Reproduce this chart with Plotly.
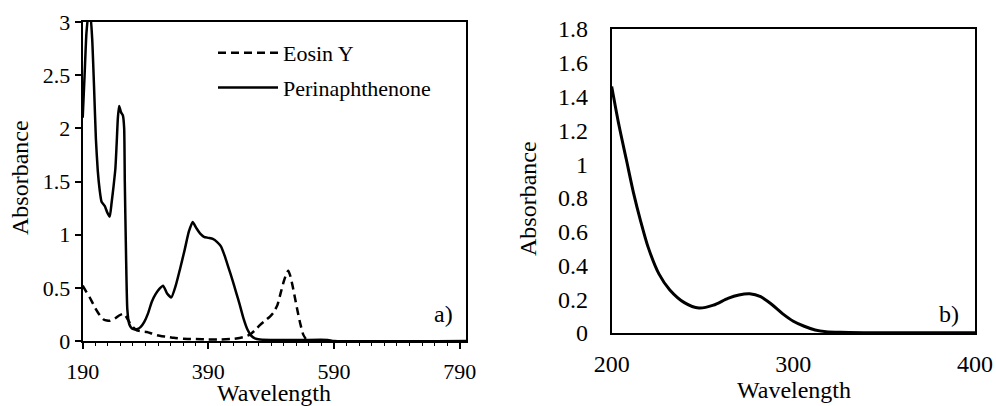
import plotly.graph_objects as go

# panel a) - absorbance spectra
perina_wl = [190, 193, 196, 199, 202, 205, 208, 211, 214, 217, 220, 225, 229, 233, 236,
             239, 242, 244, 246, 248, 251, 254, 256, 257, 259, 261, 264, 268, 272, 276,
             282, 288, 294, 300, 306, 312, 318, 324, 331, 338, 345, 352, 359, 365, 371,
             377, 383, 390, 397, 404, 410, 416, 422, 428, 434, 440, 446, 452, 458, 464,
             472, 500, 540, 580, 590, 800]
perina_abs = [2.1, 2.5, 2.9, 3.05, 3.05, 2.85, 2.4, 1.9, 1.6, 1.42, 1.31, 1.27, 1.21, 1.17, 1.3,
              1.45, 1.62, 1.85, 2.1, 2.21, 2.15, 2.12, 2.0, 1.5, 0.8, 0.3, 0.16, 0.12, 0.11, 0.11,
              0.13, 0.18, 0.26, 0.37, 0.44, 0.49, 0.52, 0.45, 0.41, 0.52, 0.68, 0.85, 1.03, 1.12, 1.06,
              1.01, 0.98, 0.97, 0.96, 0.93, 0.89, 0.8, 0.69, 0.58, 0.46, 0.34, 0.21, 0.11, 0.05, 0.025,
              0.015, 0.01, 0.01, 0.01, 0.0, 0.0]

eosin_wl = [190, 196, 203, 210, 217, 224, 233, 241, 248, 254, 258, 262, 267, 272, 276,
            284, 292, 300, 308, 316, 324, 335, 350, 370, 390, 410, 430, 445, 456, 464,
            472, 480, 488, 494, 500, 505, 510, 514, 517, 520, 524, 528, 532, 536, 541, 545]
eosin_abs = [0.52, 0.46, 0.39, 0.31, 0.245, 0.2, 0.19, 0.21, 0.24, 0.255, 0.24, 0.2, 0.15, 0.12, 0.1,
             0.09, 0.085, 0.07, 0.055, 0.045, 0.04, 0.03, 0.022, 0.018, 0.015, 0.015, 0.02, 0.035, 0.06, 0.1,
             0.15, 0.19, 0.23, 0.27, 0.34, 0.45, 0.56, 0.63, 0.66, 0.62, 0.52, 0.4, 0.28, 0.17, 0.06, 0.02]

# panel b)
b_wl = [200, 204, 208, 212, 216, 220, 226, 232, 240, 248, 256, 264, 270, 276, 282,
        288, 294, 300, 306, 312, 318, 326, 340, 360, 380, 400]
b_abs = [1.46, 1.23, 1.03, 0.83, 0.66, 0.51, 0.35, 0.255, 0.18, 0.148, 0.165, 0.205, 0.225, 0.232, 0.215,
         0.17, 0.115, 0.07, 0.04, 0.018, 0.008, 0.004, 0.002, 0.001, 0.001, 0.001]

a_xticks = [190, 390, 590, 790]
b_xticks = [200, 300, 400]

FONT = "'Liberation Serif', 'Times New Roman', 'DejaVu Serif', serif"
W, H = 996, 406

fig = go.Figure()

fig.add_trace(go.Scatter(
    x=eosin_wl, y=eosin_abs, name="Eosin Y", mode="lines",
    line=dict(color="black", width=2.5, dash="8px,5px", shape="spline", smoothing=0.5),
    xaxis="x", yaxis="y", legendgroup="eosin",
))
fig.add_trace(go.Scatter(
    x=perina_wl, y=perina_abs, name="Perinaphthenone", mode="lines",
    line=dict(color="black", width=2.5, shape="spline", smoothing=0.5),
    xaxis="x", yaxis="y", legendgroup="perina",
))
fig.add_trace(go.Scatter(
    x=b_wl, y=b_abs, mode="lines", showlegend=False,
    line=dict(color="black", width=3, shape="spline", smoothing=0.8),
    xaxis="x2", yaxis="y2",
))

# plot-area boxes in pixels, converted to paper fractions
a_l, a_r, a_t, a_b = 82.7, 466, 22, 341
b_l, b_r, b_t, b_b = 611.7, 975, 29, 333

tickfont = dict(family=FONT, size=22, color="black")
tickfont_b = dict(family=FONT, size=24, color="black")
axis_common = dict(showgrid=False, zeroline=False, showline=True, mirror=True,
                   automargin=False, linecolor="black", linewidth=2)

fig.update_layout(
    width=W, height=H,
    margin=dict(l=0, r=0, t=0, b=0),
    paper_bgcolor="white", plot_bgcolor="white",
    font=dict(family=FONT, color="black"),
    xaxis=dict(domain=[a_l / W, a_r / W], range=[190, 800], tickvals=a_xticks,
               ticks="outside", ticklen=6, tickwidth=1.5, tickcolor="black",
               minor=dict(dtick=20, tick0=190, ticks="outside", ticklen=3,
                          tickwidth=1, tickcolor="black"),
               ticklabelstandoff=4, anchor="y", tickfont=tickfont, **axis_common),
    yaxis=dict(domain=[1 - a_b / H, 1 - a_t / H], range=[0, 3], dtick=0.5,
               ticks="outside", ticklen=6, tickwidth=1.5, tickcolor="black",
               anchor="x", tickfont=tickfont, **axis_common),
    xaxis2=dict(domain=[b_l / W, b_r / W], range=[200, 400], tickvals=b_xticks,
                ticks="", ticklabelstandoff=8, anchor="y2", tickfont=tickfont_b,
                **axis_common),
    yaxis2=dict(domain=[1 - b_b / H, 1 - b_t / H], range=[0, 1.8], dtick=0.2,
                ticks="", ticklabelstandoff=17, anchor="x2", tickfont=tickfont_b,
                **axis_common),
    legend=dict(x=213 / W, y=1 - 32 / H, xanchor="left", yanchor="top",
                bgcolor="rgba(0,0,0,0)", itemwidth=60, tracegroupgap=3,
                traceorder="grouped",
                font=dict(family=FONT, size=22, color="black")),
    showlegend=True,
)

title_font = dict(family=FONT, size=24, color="black")
annotations = [
    dict(text="Absorbance", x=20 / W, y=1 - 178 / H, textangle=-90),
    dict(text="Wavelength", x=274 / W, y=1 - 393 / H),
    dict(text="Absorbance", x=528 / W, y=1 - 199 / H, textangle=-90),
    dict(text="Wavelength", x=794 / W, y=1 - 390 / H),
    dict(text="a)", x=443.5 / W, y=1 - 314 / H),
    dict(text="b)", x=949 / W, y=1 - 313.5 / H),
]
for a in annotations:
    fig.add_annotation(xref="paper", yref="paper", showarrow=False,
                       xanchor="center", yanchor="middle", font=title_font, **a)

# drop the browser's default 8px body margin so the figure sits at (0, 0)
fig.write_html("out.html", config={"displayModeBar": False},
               post_script="document.body.style.margin = '0';")
